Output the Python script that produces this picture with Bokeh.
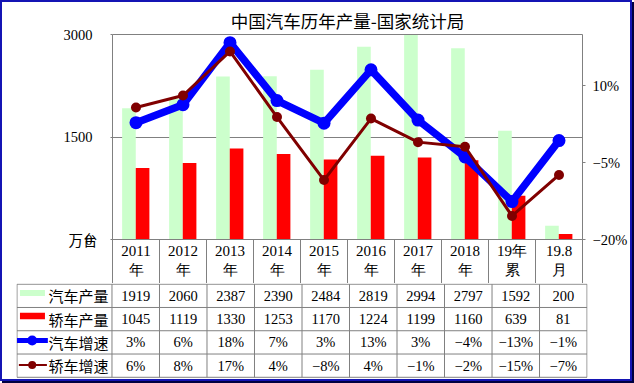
from bokeh.plotting import figure
from bokeh.models import Range1d, LinearAxis, FixedTicker
from bokeh.layouts import column
from bokeh.embed import file_html
from bokeh.resources import INLINE
from bokeh.core.properties import value

# ---------------- data ----------------
title_text = "中国汽车历年产量-国家统计局"
cat_top = ["2011", "2012", "2013", "2014", "2015", "2016", "2017", "2018", "19年", "19.8"]
cat_bottom = ["年", "年", "年", "年", "年", "年", "年", "年", "累", "月"]
series_names = ["汽车产量", "轿车产量", "汽车增速", "轿车增速"]
car_output = [1919, 2060, 2387, 2390, 2484, 2819, 2994, 2797, 1592, 200]
sedan_output = [1045, 1119, 1330, 1253, 1170, 1224, 1199, 1160, 639, 81]
car_growth = [2.8, 6.3, 18.4, 7.1, 2.7, 13.1, 3.3, -3.9, -12.6, -0.7]
sedan_growth = [5.75, 8.1, 16.7, 3.9, -8.4, 3.6, -1.0, -1.9, -15.4, -7.4]
left_ticks = [0, 1500, 3000]
right_ticks = [-20, -5, 10]
right_max = 20
unit_label = "万台"

GREEN = "#CCFFCC"
RED = "#FF0000"
BLUE = "#0000FF"
DARKRED = "#800000"
GRAY = "#808080"
SERIF = "Liberation Serif"
CJK = "Noto Sans CJK SC"

n = len(cat_top)
centers = [i + 0.5 for i in range(n)]


def pct(v):
    return (f"{round(v)}%").replace("-", "\u2212")


def plain_axis(ax, tick_out=0, standoff=0, font=SERIF, size="14.5px"):
    ax.axis_line_color = None
    ax.major_tick_out = tick_out
    ax.major_tick_in = 0
    ax.minor_tick_out = 0
    ax.minor_tick_in = 0
    ax.major_tick_line_color = GRAY
    ax.major_label_standoff = standoff
    ax.major_label_text_font = font
    ax.major_label_text_font_size = size
    ax.major_label_text_color = "black"


# ---------------- main chart ----------------
W = 628
HEADER = 44
p = figure(width=W, height=281, x_range=Range1d(0, n), y_range=Range1d(left_ticks[0], left_ticks[-1]),
           output_backend="svg", toolbar_location=None,
           min_border_left=110, min_border_right=43, min_border_top=32, min_border_bottom=HEADER,
           title=title_text)
p.frame_align = False
p.extra_y_ranges = {"pct": Range1d(right_ticks[0], right_max)}
p.background_fill_color = "white"
p.border_fill_color = "white"
p.outline_line_color = GRAY
p.outline_line_width = 1

p.title.align = "center"
p.title.offset = 9
p.title.text_font = CJK
p.title.text_font_size = "17.5px"
p.title.text_font_style = "normal"
p.title.text_color = "black"
p.title.standoff = 3

# x axis: category labels; minor ticks form the table header separators
xa = p.xaxis[0]
xa.ticker = FixedTicker(ticks=centers, minor_ticks=list(range(n + 1)))
xa.major_label_overrides = {c: f"{a}\n{b}" for c, a, b in zip(centers, cat_top, cat_bottom)}
xa.major_tick_out = 0
xa.major_tick_in = 0
xa.minor_tick_in = 0
xa.minor_tick_out = HEADER
xa.minor_tick_line_color = GRAY
xa.axis_line_color = GRAY
xa.major_label_standoff = 3 - HEADER
xa.major_label_text_font = SERIF
xa.major_label_text_font_size = "15px"
xa.major_label_text_color = "black"

ya = p.yaxis[0]
ya.ticker = FixedTicker(ticks=left_ticks)
plain_axis(ya, tick_out=2, standoff=18)

# unit label placed as a second left axis at the zero tick
ua = LinearAxis(ticker=FixedTicker(ticks=[left_ticks[0]]), major_label_overrides={left_ticks[0]: unit_label})
plain_axis(ua, tick_out=0, standoff=-37, font=CJK, size="14.5px")
p.add_layout(ua, "left")

ra = LinearAxis(y_range_name="pct", ticker=FixedTicker(ticks=right_ticks),
                major_label_overrides={t: pct(t) for t in right_ticks})
plain_axis(ra, tick_out=3, standoff=7)
p.add_layout(ra, "right")

p.xgrid.visible = False
p.ygrid.ticker = FixedTicker(ticks=left_ticks)
p.ygrid.grid_line_color = GRAY
p.ygrid.grid_line_width = 1

p.vbar(x=[c - 0.15 for c in centers], top=car_output, width=0.29, fill_color=GREEN, line_color=None)
p.vbar(x=[c + 0.14 for c in centers], top=sedan_output, width=0.29, fill_color=RED, line_color=None)

p.line(centers, car_growth, y_range_name="pct", line_color=BLUE, line_width=7.5, line_join="round")
p.scatter(centers, car_growth, y_range_name="pct", size=13, fill_color=BLUE, line_color=None)
p.line(centers, sedan_growth, y_range_name="pct", line_color=DARKRED, line_width=3, line_join="round")
p.scatter(centers, sedan_growth, y_range_name="pct", size=10, fill_color=DARKRED, line_color=None)

# ---------------- data table ----------------
t = figure(width=W, height=96, x_range=Range1d(-2.01, n + 0.01), y_range=Range1d(4.095, -0.03),
           output_backend="svg", toolbar_location=None,
           x_axis_location=None, y_axis_location=None,
           min_border_left=14, min_border_right=43, min_border_top=0, min_border_bottom=0)
t.frame_align = False
t.grid.visible = False
t.outline_line_color = None
t.background_fill_color = "white"
t.border_fill_color = "white"

rows = len(series_names)
hy = list(range(rows + 1))
t.segment(x0=[-2] * len(hy), y0=hy, x1=[n] * len(hy), y1=hy, line_color=GRAY, line_width=1)
vx = [-2] + list(range(n + 1))
t.segment(x0=vx, y0=[0] * len(vx), x1=vx, y1=[rows] * len(vx), line_color=GRAY, line_width=1)

row_text = [
    [str(v) for v in car_output],
    [str(v) for v in sedan_output],
    [pct(v) for v in car_growth],
    [pct(v) for v in sedan_growth],
]
for r, texts in enumerate(row_text):
    t.text(x=centers, y=[r + 0.5] * n, text=texts, text_font=value(SERIF), text_font_size="14.5px",
           text_align="center", text_baseline="middle", text_color="black")

t.text(x=[-0.705] * rows, y=[r + 0.5 for r in range(rows)], text=series_names, text_font=value(CJK),
       text_font_size="15px", text_align="center", text_baseline="middle", text_color="black")

# legend keys in the row headers
t.segment(x0=[-1.937], y0=[0.38], x1=[-1.411], y1=[0.38], line_color=GREEN, line_width=6, line_cap="butt")
t.segment(x0=[-1.937], y0=[1.37], x1=[-1.411], y1=[1.37], line_color=RED, line_width=6.5, line_cap="butt")
t.segment(x0=[-2.0], y0=[2.42], x1=[-1.35], y1=[2.42], line_color=BLUE, line_width=5, line_cap="butt")
t.scatter(x=[-1.68], y=[2.42], size=10, fill_color=BLUE, line_color=None)
t.segment(x0=[-1.96], y0=[3.47], x1=[-1.37], y1=[3.47], line_color=DARKRED, line_width=2, line_cap="butt")
t.scatter(x=[-1.68], y=[3.47], size=8, fill_color=DARKRED, line_color=None)

layout = column(p, t, spacing=0,
                styles={"border": "2px solid #1414b4", "box-shadow": "2px 2px 0 #000040",
                        "background-color": "white"})

open("out.html", "w").write(file_html(layout, INLINE))
